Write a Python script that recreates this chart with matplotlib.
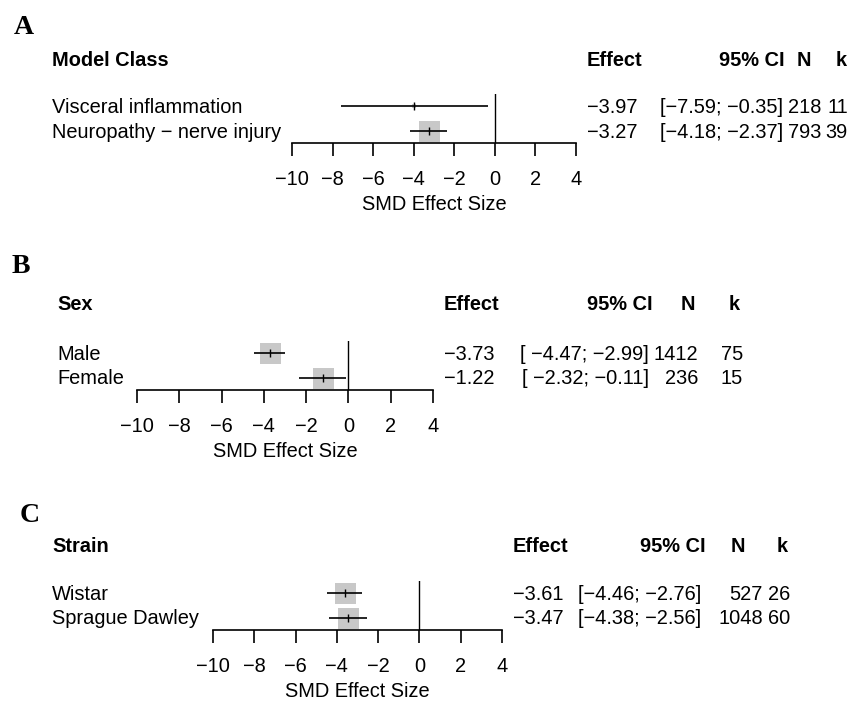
import matplotlib
matplotlib.use("Agg")
import matplotlib.pyplot as plt

W, H, DPI = 856, 702, 100
FONT = ["Liberation Sans", "DejaVu Sans"]
FS = 14.4
SQUARE_GREY = "#c8c8c8"

# subgroup results: SMD, 95% CI, animals (N), studies (k)
model_labels = ["Visceral inflammation", "Neuropathy \u2212 nerve injury"]
model_effect = [-3.97, -3.27]
model_lower = [-7.59, -4.18]
model_upper = [-0.35, -2.37]
model_n = [218, 793]
model_k = [11, 39]

sex_labels = ["Male", "Female"]
sex_effect = [-3.73, -1.22]
sex_lower = [-4.47, -2.32]
sex_upper = [-2.99, -0.11]
sex_n = [1412, 236]
sex_k = [75, 15]

strain_labels = ["Wistar", "Sprague Dawley"]
strain_effect = [-3.61, -3.47]
strain_lower = [-4.46, -4.38]
strain_upper = [-2.76, -2.56]
strain_n = [527, 1048]
strain_k = [26, 60]

x_ticks = [-10, -8, -6, -4, -2, 0, 2, 4]
x_label = "SMD Effect Size"


def fmt(v, width=0):
    return f"{v:.2f}".replace("-", "\u2212").rjust(width)


# pixel layout of each panel (y grows downwards)
panels = [
    dict(letter="A", title="Model Class", labels=model_labels, effect=model_effect,
         lower=model_lower, upper=model_upper, n=model_n, k=model_k,
         letter_xy=(14, 25), text_x=52, title_y=59, row1=106, ax_x=(292, 576),
         eff_x=587, ci_hdr=785, ci_val=783, n_hdr=804, n_val=821, k_hdr=841, k_val=848,
         ci_pad=0, box=[4, 21]),
    dict(letter="B", title="Sex", labels=sex_labels, effect=sex_effect,
         lower=sex_lower, upper=sex_upper, n=sex_n, k=sex_k,
         letter_xy=(12, 264), text_x=57, title_y=303, row1=353, ax_x=(137, 433),
         eff_x=444, ci_hdr=653, ci_val=649, n_hdr=688, n_val=698, k_hdr=734, k_val=743,
         ci_pad=6, box=[21, 21]),
    dict(letter="C", title="Strain", labels=strain_labels, effect=strain_effect,
         lower=strain_lower, upper=strain_upper, n=strain_n, k=strain_k,
         letter_xy=(20, 513), text_x=52, title_y=545, row1=593, ax_x=(213, 502),
         eff_x=513, ci_hdr=706, ci_val=701, n_hdr=738, n_val=763, k_hdr=782, k_val=790,
         ci_pad=0, box=[21, 21]),
]

ROW_STEP = 24.5
AXIS_OFF = 37
TOP_OFF = -12
BASE = 7  # baseline sits this many px below the visual centre of a line

plt.rcParams["font.family"] = FONT
plt.rcParams["font.size"] = FS

fig = plt.figure(figsize=(W / DPI, H / DPI), dpi=DPI)
overlay = fig.add_axes([0, 0, 1, 1])
overlay.set_xlim(0, W)
overlay.set_ylim(H, 0)
overlay.axis("off")


def put(x, y, s, ha="left", bold=False, **kw):
    overlay.text(x, y + BASE, s, ha=ha, va="baseline",
                 fontweight="bold" if bold else "normal", **kw)


for p in panels:
    r1 = p["row1"]
    lx, ly = p["letter_xy"]
    overlay.text(lx, ly + 9, p["letter"], ha="left", va="baseline", fontsize=20,
                 fontweight="bold", family=["Liberation Serif", "DejaVu Serif"])

    # column headers
    put(p["text_x"], p["title_y"], p["title"], bold=True)
    put(p["eff_x"], p["title_y"], "Effect", bold=True)
    put(p["ci_hdr"], p["title_y"], "95% CI", ha="right", bold=True)
    put(p["n_hdr"], p["title_y"], "N", ha="center", bold=True)
    put(p["k_hdr"], p["title_y"], "k", ha="center", bold=True)

    for i, lab in enumerate(p["labels"]):
        y = r1 + i * ROW_STEP
        ci = f"[{fmt(p['lower'][i], p['ci_pad'])}; {fmt(p['upper'][i])}]"
        put(p["text_x"], y, lab)
        put(p["eff_x"], y, fmt(p["effect"][i]))
        put(p["ci_val"], y, ci, ha="right")
        put(p["n_val"], y, str(p["n"][i]), ha="right")
        put(p["k_val"], y, str(p["k"][i]), ha="right")

    # forest plot area
    x0, x1 = p["ax_x"]
    top, bottom = r1 + TOP_OFF, r1 + AXIS_OFF
    ax = fig.add_axes([x0 / W, 1 - bottom / H, (x1 - x0) / W, (bottom - top) / H])
    ax.set_xlim(x_ticks[0], x_ticks[-1])
    ax.set_ylim(AXIS_OFF, TOP_OFF)
    ax.patch.set_alpha(0)
    for side in ("top", "left", "right"):
        ax.spines[side].set_visible(False)
    ax.spines["bottom"].set_linewidth(1.2)
    ax.set_yticks([])
    ax.set_xticks(x_ticks)
    ax.tick_params(axis="x", direction="out", length=9.4, width=1.2, pad=10,
                   labelsize=FS)
    ax.axvline(0, color="black", lw=1.0, zorder=1)

    for i in range(len(p["labels"])):
        y = i * ROW_STEP
        side_pt = p["box"][i] * 72 / DPI
        ax.scatter(p["effect"][i], y, marker="s", s=side_pt ** 2, color=SQUARE_GREY,
                   linewidths=0, zorder=2, clip_on=False)
        ax.hlines(y, p["lower"][i], p["upper"][i], color="black", lw=1.2, zorder=3)
        ax.vlines(p["effect"][i], y - 4, y + 4, color="black", lw=1.0, zorder=4)

    put((x0 + x1) / 2, bottom + 60, x_label, ha="center")

fig.savefig("out.png", dpi=DPI)
